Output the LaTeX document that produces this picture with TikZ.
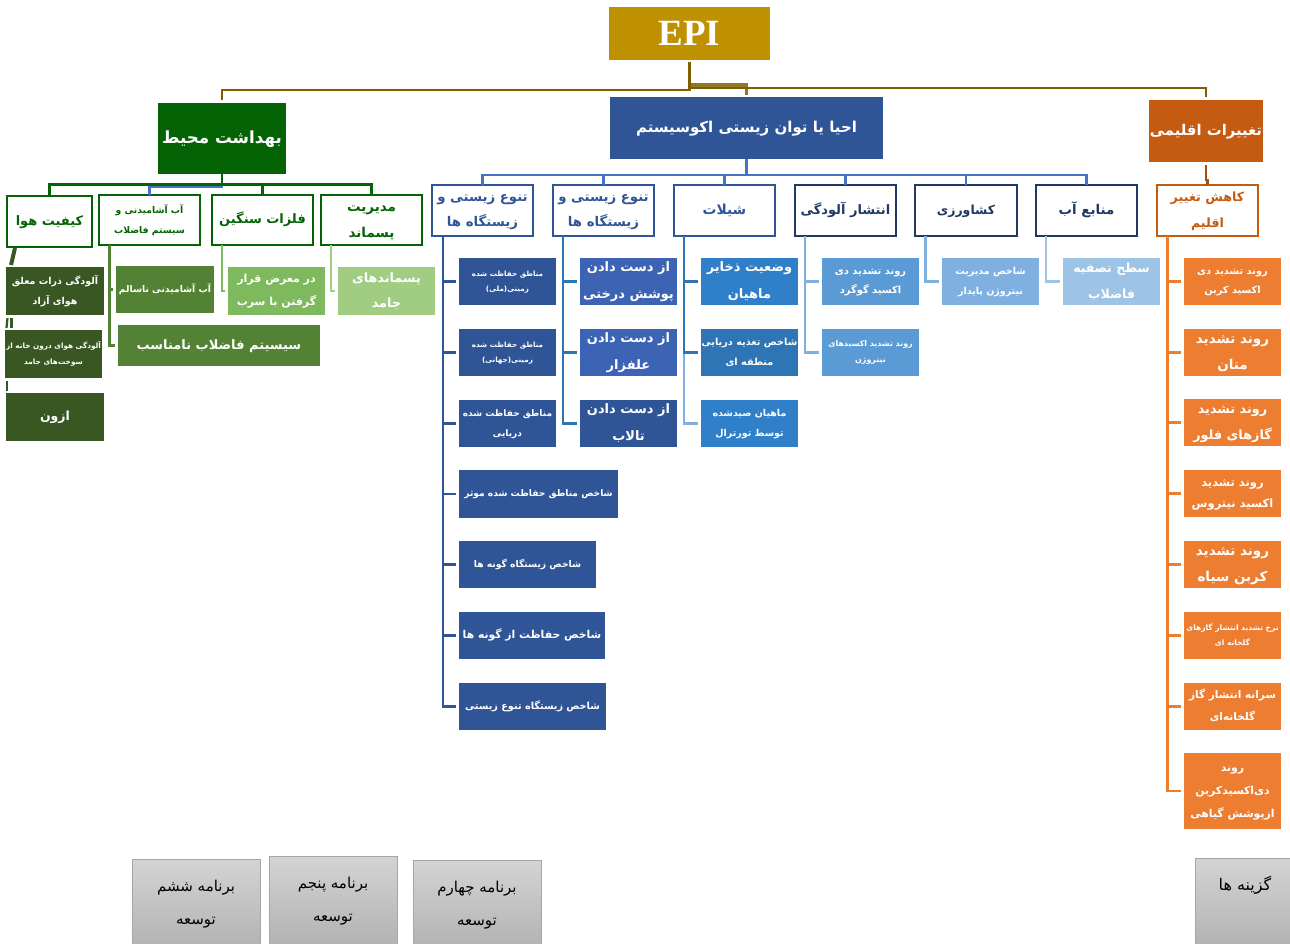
\documentclass[tikz,border=0pt]{standalone}
\usepackage{fontspec}
\TeXXeTstate=1
\newfontfamily\arabicfont[Script=Arabic]{DejaVu Sans}
\newfontfamily\epifont{Liberation Serif}
\newcommand\ar[1]{\vrule width 0pt height 0.9em depth 0.3em\beginR #1\endR}
\newcommand\bx[9][]{\node[box,#1,minimum width={#5-#3},minimum height={#6-#4},font={\arabicfont\bfseries\fontsize{#7}{#8}\selectfont}] (#2) at ({(#3+#5)/2},{(#4+#6)/2}) {#9};}
\definecolor{cEpi}{HTML}{BF9000}
\definecolor{cBrown}{HTML}{7F6000}
\definecolor{cHealth}{HTML}{046304}
\definecolor{cEco}{HTML}{2F5597}
\definecolor{cNavy}{HTML}{203864}
\definecolor{cClim}{HTML}{C55A11}
\definecolor{cOr}{HTML}{ED7D31}
\definecolor{cBlue}{HTML}{4472C4}
\definecolor{cDG}{HTML}{385723}
\definecolor{cG}{HTML}{548235}
\definecolor{cLG}{HTML}{7FB95E}
\definecolor{cVG}{HTML}{A0CD82}
\definecolor{cB2}{HTML}{3D64B4}
\definecolor{cB3}{HTML}{2E75B6}
\definecolor{cB4}{HTML}{2F7FC9}
\definecolor{cB5}{HTML}{5B9BD5}
\definecolor{cB6}{HTML}{7FB0E0}
\definecolor{cB7}{HTML}{9DC3E6}
\tikzset{
  box/.style={inner sep=0pt,outer sep=0pt,align=center,text=white},
  frame/.style={draw=#1,fill=white,line width=2.6pt,text=#1},
  grey/.style={draw=black!35,line width=1pt,top color=black!17,bottom color=black!30,text=black},
  stub/.style={line width=2.2pt,shorten >=3pt},
}
\begin{document}
\begin{tikzpicture}[x=1pt,y=-1pt]
\clip (0,0) rectangle (1290,944);
% top level
\bx[fill=cEpi]{epi}{609}{7}{770}{60}{12}{14}{\epifont\bfseries\fontsize{37}{40}\selectfont EPI}
\bx[fill=cHealth]{h}{158}{103}{286}{174}{16.7}{20}{\ar{بهداشت محیط}}
\bx[fill=cEco]{e}{610}{97}{883}{159}{15}{20}{\ar{احیا یا توان زیستی اکوسیستم}}
\bx[fill=cClim]{c}{1149}{100}{1263}{162}{14.8}{20}{\ar{تغییرات اقلیمی}}
% health level 2
\bx[frame=cHealth]{hk}{7}{196}{92}{247}{13}{18}{\ar{کیفیت هوا}}
\bx[frame=cHealth]{hw}{99}{195}{200}{245}{9.2}{20}{\ar{آب آشامیدنی و}\\\ar{سیستم فاضلاب}}
\bx[frame=cHealth]{hf}{212}{195}{313}{245}{13}{18}{\ar{فلزات سنگین}}
\bx[frame=cHealth]{hm}{321}{195}{422}{245}{13.5}{26}{\ar{مدیریت}\\\ar{پسماند}}
% health leaves
\bx[fill=cDG]{k1}{6}{267}{104}{315}{9.5}{20}{\ar{آلودگی ذرات معلق}\\\ar{هوای آزاد}}
\bx[fill=cDG]{k2}{5}{330}{102}{378}{7.3}{16}{\ar{آلودگی هوای درون خانه از}\\\ar{سوخت‌های جامد}}
\bx[fill=cDG]{k3}{6}{393}{104}{441}{12.5}{18}{\ar{ازون}}
\bx[fill=cG]{w1}{116}{266}{214}{313}{9.2}{18}{\ar{آب آشامیدنی ناسالم}}
\bx[fill=cG]{w2}{118}{325}{320}{366}{13}{18}{\ar{سیسیتم فاضلاب نامناسب}}
\bx[fill=cLG]{f1}{228}{267}{325}{315}{11}{23}{\ar{در معرض قرار}\\\ar{گرفتن با سرب}}
\bx[fill=cVG]{m1}{338}{267}{435}{315}{12.8}{25}{\ar{پسماندهای}\\\ar{جامد}}
% ecosystem level 2
\bx[frame=cEco]{b1}{432}{185}{533}{236}{13.3}{25}{\ar{تنوع زیستی و}\\\ar{زیستگاه ها}}
\bx[frame=cEco]{b2}{553}{185}{654}{236}{13.3}{25}{\ar{تنوع زیستی و}\\\ar{زیستگاه ها}}
\bx[frame=cEco]{s}{674}{185}{775}{236}{13.8}{18}{\ar{شیلات}}
\bx[frame=cNavy]{p}{795}{185}{896}{236}{13}{18}{\ar{انتشار آلودگی}}
\bx[frame=cNavy]{a}{915}{185}{1017}{236}{12.5}{18}{\ar{کشاورزی}}
\bx[frame=cNavy]{r}{1036}{185}{1137}{236}{13.4}{18}{\ar{منابع آب}}
% biodiversity leaves
\bx[fill=cEco]{b11}{459}{258}{556}{305}{7.2}{15}{\ar{مناطق حفاظت شده}\\\ar{زمینی(ملی)}}
\bx[fill=cEco]{b12}{459}{329}{556}{376}{7.2}{15}{\ar{مناطق حفاظت شده}\\\ar{زمینی(جهانی)}}
\bx[fill=cEco]{b13}{459}{400}{556}{447}{9}{20}{\ar{مناطق حفاظت شده}\\\ar{دریایی}}
\bx[fill=cEco]{b14}{459}{470}{618}{518}{9.1}{18}{\ar{شاخص مناطق حفاظت شده موثر}}
\bx[fill=cEco]{b15}{459}{541}{596}{588}{9.2}{18}{\ar{شاخص زیستگاه گونه ها}}
\bx[fill=cEco]{b16}{459}{612}{605}{659}{10.8}{18}{\ar{شاخص حفاظت از گونه ها}}
\bx[fill=cEco]{b17}{459}{683}{606}{730}{9.7}{18}{\ar{شاخص زیستگاه تنوع زیستی}}
\bx[fill=cB2]{b21}{580}{258}{677}{305}{13}{27}{\ar{از دست دادن}\\\ar{پوشش درختی}}
\bx[fill=cB2]{b22}{580}{329}{677}{376}{13}{27}{\ar{از دست دادن}\\\ar{علفزار}}
\bx[fill=cEco]{b23}{580}{400}{677}{447}{13}{27}{\ar{از دست دادن}\\\ar{تالاب}}
\bx[fill=cB4]{s1}{701}{258}{798}{305}{13}{27}{\ar{وضعیت ذخایر}\\\ar{ماهیان}}
\bx[fill=cB3]{s2}{701}{329}{798}{376}{9.7}{20}{\ar{شاخص تغذیه دریایی}\\\ar{منطقه ای}}
\bx[fill=cB4]{s3}{701}{400}{798}{447}{9.5}{20}{\ar{ماهیان صیدشده}\\\ar{توسط تورترال}}
\bx[fill=cB5]{p1}{822}{258}{919}{305}{9.9}{19}{\ar{روند تشدید دی}\\\ar{اکسید گوگرد}}
\bx[fill=cB5]{p2}{822}{329}{919}{376}{7.9}{16}{\ar{روند تشدید اکسیدهای}\\\ar{نیتروژن}}
\bx[fill=cB6]{a1}{942}{258}{1039}{305}{9.5}{20}{\ar{شاخص مدیریت}\\\ar{نیتروژن پایدار}}
\bx[fill=cB7]{r1}{1063}{258}{1160}{305}{12.5}{26}{\ar{سطح تصفیه}\\\ar{فاضلاب}}
% climate
\bx[frame=cClim]{k}{1157}{185}{1258}{236}{12.7}{26}{\ar{کاهش تغییر}\\\ar{اقلیم}}
\bx[fill=cOr]{c1}{1184}{258}{1281}{305}{9.8}{19}{\ar{روند تشدید دی}\\\ar{اکسید کربن}}
\bx[fill=cOr]{c2}{1184}{329}{1281}{376}{13.5}{26}{\ar{روند تشدید}\\\ar{متان}}
\bx[fill=cOr]{c3}{1184}{399}{1281}{446}{12.8}{26}{\ar{روند تشدید}\\\ar{گازهای فلور}}
\bx[fill=cOr]{c4}{1184}{470}{1281}{517}{11.5}{21}{\ar{روند تشدید}\\\ar{اکسید نیتروس}}
\bx[fill=cOr]{c5}{1184}{541}{1281}{588}{13.5}{26}{\ar{روند تشدید}\\\ar{کربن سیاه}}
\bx[fill=cOr]{c6}{1184}{612}{1281}{659}{7.5}{15}{\ar{نرخ تشدید انتشار گازهای}\\\ar{گلخانه ای}}
\bx[fill=cOr]{c7}{1184}{683}{1281}{730}{10.5}{22}{\ar{سرانه انتشار گاز}\\\ar{گلخانه‌ای}}
\bx[fill=cOr]{c8}{1184}{753}{1281}{829}{10.9}{23}{\ar{روند}\\\ar{دی‌اکسیدکربن}\\\ar{ازپوشش گیاهی}}
% grey boxes
\bx[grey]{g1}{132}{859}{260}{947}{15}{33}{\mdseries\ar{برنامه ششم}\\\mdseries\ar{توسعه}}
\bx[grey]{g2}{269}{856}{397}{944}{15}{33}{\mdseries\ar{برنامه پنجم}\\\mdseries\ar{توسعه}}
\bx[grey]{g3}{413}{860}{541}{948}{15}{33}{\mdseries\ar{برنامه چهارم}\\\mdseries\ar{توسعه}}
\bx[grey]{g4}{1195}{858}{1295}{947}{16}{33}{\mdseries\ar{گزینه ها}\\\ar{}}
% trunk connectors
\begin{scope}[cBrown,line width=2.4pt]
\draw[shorten <=2pt,shorten >=3pt] (epi.south) -- ++(0,30) -| (h.north);
\draw[shorten <=2pt,shorten >=3pt] (epi.south) -- ++(0,28) -| (c.north);
\draw[shorten <=2pt,shorten >=2pt,line width=3.2pt,opacity=.85] (epi.south) -- ++(0,25) -| (e.north);
\end{scope}
% health
\draw[cBlue,line width=2.4pt] (h.south) -- ++(0,12.5) -| (hw.north);
\begin{scope}[cHealth,line width=2.4pt]
\draw (h.south) -- ++(0,10.5) -| (hk.north);
\draw (h.south) -- ++(0,10.5) -- (hw.north |- 0,184.5);
\draw (h.south) -- ++(0,10.5) -| (hf.north);
\draw (h.south) -- ++(0,10.5) -| (hm.north);
\end{scope}
\draw[cDG,line width=4pt] ([xshift=8pt,yshift=-1pt]hk.south west) -- ([xshift=5pt,yshift=2pt]k1.north west);
\draw[cDG,line width=2.2pt] ([xshift=1.5pt,yshift=-3pt]k1.south west) -- ([xshift=1.5pt,yshift=2pt]k2.north west);
\draw[cDG,line width=2.2pt] ([xshift=5.5pt,yshift=-3pt]k1.south west) -- ([xshift=6.5pt,yshift=2pt]k2.north west);
\draw[cDG,line width=2.2pt] ([xshift=2pt,yshift=-3pt]k2.south west) -- ([xshift=1pt,yshift=2pt]k3.north west);
\draw[cG,stub] ([xshift=10.5pt]hw.south west) |- (w1.west);
\draw[cG,stub] ([xshift=10.5pt]hw.south west) |- (w2.west);
\draw[cLG,stub] ([xshift=10pt]hf.south west) |- (f1.west);
\draw[cVG,stub] ([xshift=10pt]hm.south west) |- (m1.west);
% ecosystem
\begin{scope}[cBlue,line width=2.4pt]
\foreach \t in {b1,b2,s,p,a,r} \draw (e.south) -- ++(0,16) -| (\t.north);
\end{scope}
\foreach \t in {b11,b12,b13,b14,b15,b16,b17} \draw[cEco,stub,line width=2.8pt] ([xshift=11pt]b1.south west) |- (\t.west);
\foreach \t in {b21,b22,b23} \draw[cB3,stub] ([xshift=10pt]b2.south west) |- (\t.west);
\draw[cB6,stub] ([xshift=10pt]s.south west) |- (s3.west);
\foreach \t in {s1,s2} \draw[cB3,stub] ([xshift=10pt]s.south west) |- (\t.west);
\foreach \t in {p1,p2} \draw[cB6,stub] ([xshift=10pt]p.south west) |- (\t.west);
\draw[cB6,stub] ([xshift=10.5pt]a.south west) |- (a1.west);
\draw[cB7,stub] ([xshift=10pt]r.south west) |- (r1.west);
% climate
\draw[cClim!85!black,line width=2.4pt,shorten <=3pt] (c.south) -- ++(0,18) -| (k.north);
\foreach \t in {c1,c2,c3,c4,c5,c6,c7,c8} \draw[cOr,stub] ([xshift=10.5pt]k.south west) |- (\t.west);
\end{tikzpicture}
\end{document}
